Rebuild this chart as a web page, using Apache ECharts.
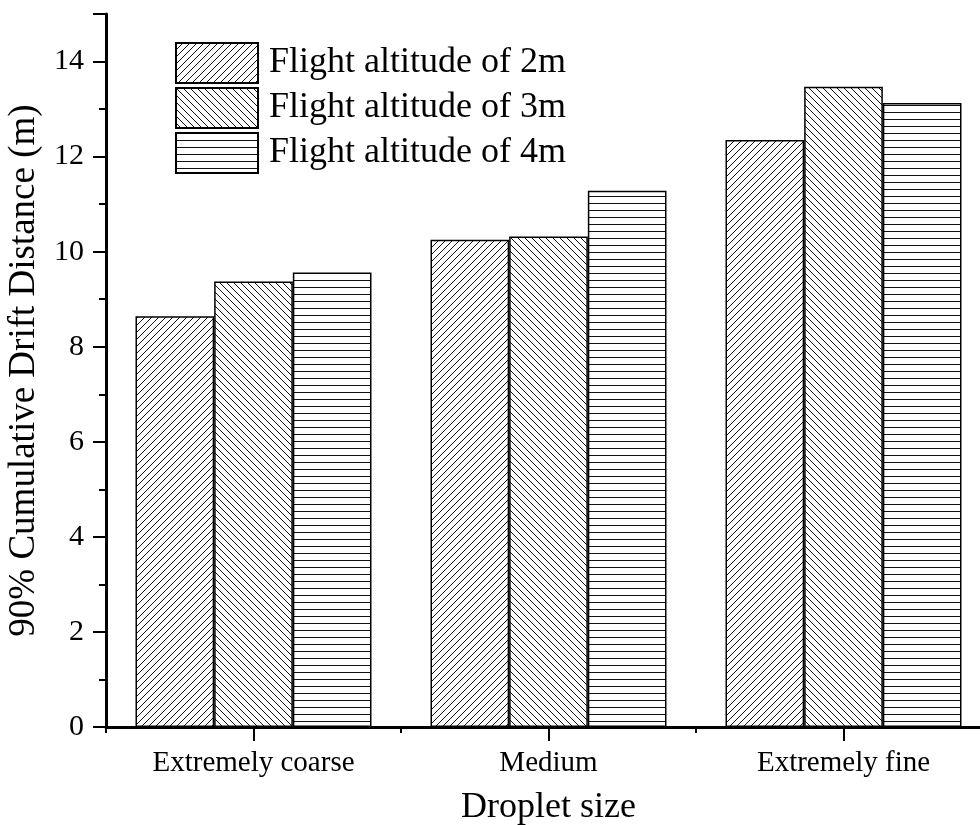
<!DOCTYPE html>
<html>

<head>
    <meta charset="utf-8" />
    <script src="https://cdn.jsdelivr.net/npm/echarts@6/dist/echarts.min.js"></script>
    <style>
        html, body { margin: 0; padding: 0; background: #fff; }
    </style>
</head>

<body>
    <div id="main" style="width: 980px; height: 825px;"></div>
    <script type="text/javascript">
        // 数据
        var categories = ['Extremely coarse', 'Medium', 'Extremely fine'];
        var seriesNames = ['Flight altitude of 2m', 'Flight altitude of 3m', 'Flight altitude of 4m'];
        var alt2m = [8.64, 10.25, 12.35];
        var alt3m = [9.37, 10.32, 13.47];
        var alt4m = [9.56, 11.28, 13.13];

        var fontFamily = "'Times New Roman', 'Liberation Serif', serif";

        // 填充图案 (斜线 / 反斜线 / 横线)
        function makePattern(kind) {
            var s = 7;
            var c = document.createElement('canvas');
            c.width = s;
            c.height = s;
            var ctx = c.getContext('2d');
            ctx.fillStyle = '#fff';
            ctx.fillRect(0, 0, s, s);
            ctx.strokeStyle = '#111';
            ctx.lineWidth = 1;
            ctx.beginPath();
            if (kind === 'slash') {
                ctx.moveTo(0, s); ctx.lineTo(s, 0);
                ctx.moveTo(-1, 1); ctx.lineTo(1, -1);
                ctx.moveTo(s - 1, s + 1); ctx.lineTo(s + 1, s - 1);
            } else if (kind === 'back') {
                ctx.moveTo(0, 0); ctx.lineTo(s, s);
                ctx.moveTo(s - 1, -1); ctx.lineTo(s + 1, 1);
                ctx.moveTo(-1, s - 1); ctx.lineTo(1, s + 1);
            } else {
                ctx.moveTo(0, 0.5); ctx.lineTo(s, 0.5);
            }
            ctx.stroke();
            return { image: c, repeat: 'repeat' };
        }

        var myChart = echarts.init(document.getElementById('main'));

        function barSeries(name, data, kind) {
            return {
                name: name,
                type: 'bar',
                data: data,
                barGap: '0%',
                barCategoryGap: '20%',
                itemStyle: {
                    color: makePattern(kind),
                    borderColor: '#000',
                    borderWidth: 1.5
                }
            };
        }

        var option = {
            animation: false,
            backgroundColor: '#fff',
            textStyle: { fontFamily: fontFamily, color: '#000' },
            legend: {
                orient: 'vertical',
                left: 170,
                top: 37,
                icon: 'rect',
                itemWidth: 82,
                itemHeight: 40,
                itemGap: 3,
                data: seriesNames,
                textStyle: {
                    fontFamily: fontFamily,
                    fontSize: 36,
                    lineHeight: 40,
                    color: '#000',
                    padding: [0, 0, 0, 6]
                }
            },
            grid: {
                left: 106,
                right: -11,
                top: 14,
                bottom: 98,
                containLabel: false,
                outerBoundsMode: 'none'
            },
            xAxis: [
                {
                    type: 'category',
                    data: categories,
                    name: 'Droplet size',
                    nameLocation: 'middle',
                    nameGap: 63,
                    nameTextStyle: { fontFamily: fontFamily, fontSize: 36, color: '#000' },
                    axisLine: { show: true, lineStyle: { color: '#000', width: 3 } },
                    axisTick: { show: true, alignWithLabel: true, length: 14, lineStyle: { color: '#000', width: 2 } },
                    axisLabel: { fontFamily: fontFamily, fontSize: 29, color: '#000', margin: 22 }
                },
                {
                    // 类别边界的短刻度
                    type: 'category',
                    data: categories,
                    position: 'bottom',
                    axisLine: { show: false },
                    axisTick: { show: true, length: 6, lineStyle: { color: '#000', width: 2 } },
                    axisLabel: { show: false }
                }
            ],
            yAxis: {
                type: 'value',
                min: 0,
                max: 15,
                interval: 2,
                name: '90% Cumulative Drift Distance (m)',
                nameLocation: 'middle',
                nameGap: 60,
                nameTextStyle: { fontFamily: fontFamily, fontSize: 37, color: '#000' },
                axisLine: { show: true, lineStyle: { color: '#000', width: 3 } },
                axisTick: { show: true, length: 13, lineStyle: { color: '#000', width: 2 } },
                minorTick: { show: true, splitNumber: 2, length: 7, lineStyle: { color: '#000', width: 2 } },
                splitLine: { show: false },
                axisLabel: { fontFamily: fontFamily, fontSize: 30, color: '#000', margin: 22, showMaxLabel: false }
            },
            series: [
                barSeries(seriesNames[0], alt2m, 'slash'),
                barSeries(seriesNames[1], alt3m, 'back'),
                barSeries(seriesNames[2], alt4m, 'horiz')
            ]
        };

        myChart.setOption(option);
    </script>
</body>

</html>
